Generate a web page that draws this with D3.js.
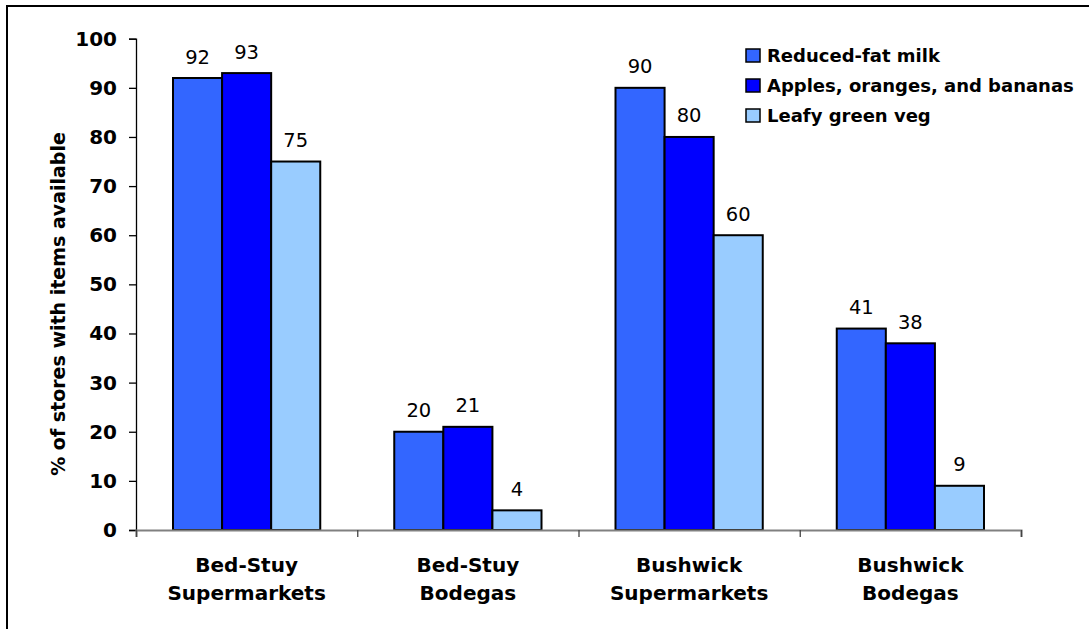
<!DOCTYPE html>
<html><head><meta charset="utf-8">
<script src="https://cdn.jsdelivr.net/npm/d3@7"></script>
<style>
body{margin:0;background:#fff;}
svg{display:block;}
text{font-family:"DejaVu Sans",Verdana,sans-serif;}
</style></head><body>
<script>
const categories = [["Bed-Stuy","Supermarkets"],["Bed-Stuy","Bodegas"],["Bushwick","Supermarkets"],["Bushwick","Bodegas"]];
const seriesNames = ["Reduced-fat milk","Apples, oranges, and bananas","Leafy green veg"];
const milk = [92,20,90,41];
const fruit = [93,21,80,38];
const leafy = [75,4,60,9];
const yTicks = [0,10,20,30,40,50,60,70,80,90,100];
const colors = ["#3366FF","#0000FF","#99CCFF"];
const series = [milk, fruit, leafy];

const W=1089,H=629;
const svg=d3.select("body").append("svg").attr("width",W).attr("height",H);
// frame
svg.append("rect").attr("x",7).attr("y",6).attr("width",W+10).attr("height",H+10)
  .attr("fill","none").attr("stroke","#000").attr("stroke-width",2);

const x0=d3.scaleBand().domain(d3.range(categories.length)).range([136,1021]).padding(0);
const x1=d3.scaleBand().domain(d3.range(3)).range([37, x0.bandwidth()-37]).padding(0);
const y=d3.scaleLinear().domain([0,100]).range([530,38.7]);

// bars
const g=svg.append("g");
categories.forEach((c,i)=>{
  series.forEach((s,j)=>{
    g.append("rect").attr("x",x0(i)+x1(j)).attr("y",y(s[i]))
      .attr("width",x1.bandwidth()).attr("height",y(0)-y(s[i]))
      .attr("fill",colors[j]).attr("stroke","#000").attr("stroke-width",2);
    g.append("text").attr("x",x0(i)+x1(j)+x1.bandwidth()/2).attr("y",y(s[i])-14.5)
      .attr("text-anchor","middle").attr("font-size",19.5).attr("fill","#000").text(s[i]);
  });
});

// y axis
const ya=svg.append("g").attr("transform","translate(136,0)")
  .call(d3.axisLeft(y).tickValues(yTicks).tickSize(7).tickPadding(12));
ya.select(".domain").attr("stroke","#000").attr("stroke-width",1.3);
ya.selectAll(".tick line").attr("stroke","#000").attr("stroke-width",1.3);
ya.selectAll(".tick text").attr("font-size",20).attr("font-weight","bold").attr("fill","#000")
  .style("font-family",'"DejaVu Sans",sans-serif');

// x axis
const xb=d3.scaleLinear().domain([0,4]).range([136,1021]);
const xa=svg.append("g").attr("transform","translate(0,530)")
  .call(d3.axisBottom(xb).tickValues([0,1,2,3,4]).tickSize(7).tickFormat(""));
xa.select(".domain").attr("stroke","#808080").attr("stroke-width",2);
xa.selectAll(".tick line").attr("stroke","#444").attr("stroke-width",1.3);

// category labels
categories.forEach((c,i)=>{
  const cx=x0(i)+x0.bandwidth()/2;
  const t=svg.append("text").attr("x",cx).attr("y",572)
    .attr("text-anchor","middle").attr("font-size",20).attr("font-weight","bold").attr("fill","#000");
  t.append("tspan").attr("x",cx).text(c[0]);
  t.append("tspan").attr("x",cx).attr("dy",28).text(c[1]);
});

// y title
svg.append("text").attr("transform","translate(65,304) rotate(-90)")
  .attr("text-anchor","middle").attr("font-size",19).attr("font-weight","bold").attr("fill","#000")
  .text("% of stores with items available");

// legend
seriesNames.forEach((n,j)=>{
  const by=62+30*j;
  svg.append("rect").attr("x",746).attr("y",by-13).attr("width",14).attr("height",13)
    .attr("fill",colors[j]).attr("stroke","#000").attr("stroke-width",1.5);
  svg.append("text").attr("x",767).attr("y",by).attr("font-size",18).attr("font-weight","bold")
    .attr("fill","#000").text(n);
});
</script></body></html>
